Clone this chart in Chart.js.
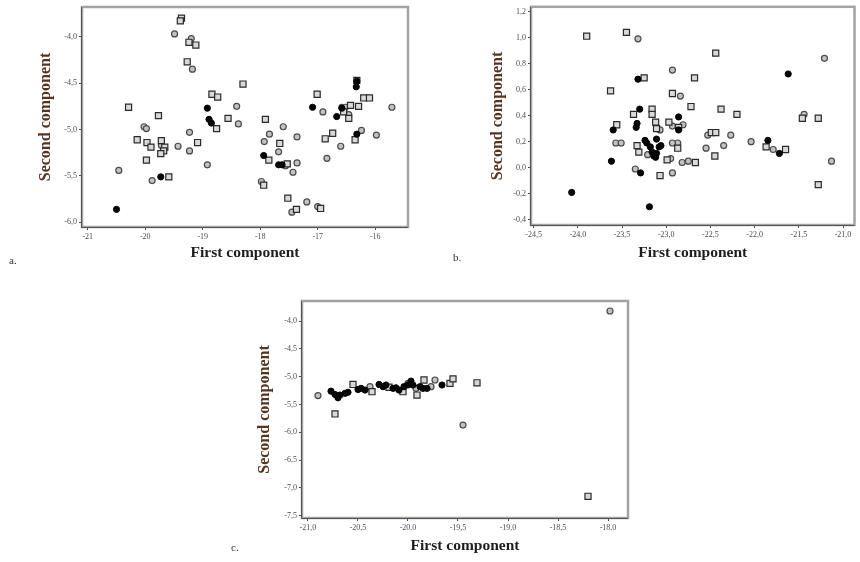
<!DOCTYPE html>
<html>
<head>
<meta charset="utf-8">
<script src="https://cdn.jsdelivr.net/npm/chart.js@4/dist/chart.umd.min.js"></script>
<style>
  body { margin: 0; background: #fff; width: 860px; height: 562px; position: relative; overflow: hidden; }
  canvas { position: absolute; }
  .tag { position: absolute; font: 11px "Liberation Serif", serif; color: #333; }
</style>
</head>
<body>
<canvas id="chartA" width="420" height="268" style="left:0;top:0"></canvas>
<canvas id="chartB" width="430" height="268" style="left:430px;top:0"></canvas>
<canvas id="chartC" width="410" height="280" style="left:230px;top:280px"></canvas>
<div class="tag" style="left:9px;top:254px">a.</div>
<div class="tag" style="left:453px;top:251px">b.</div>
<div class="tag" style="left:231px;top:541px">c.</div>
<script>
// panel a
const aFilled = [[-20.50,-5.86],[-19.73,-5.51],[-18.92,-4.77],[-18.89,-4.89],[-18.85,-4.93],[-17.94,-5.28],
  [-17.68,-5.38],[-17.62,-5.38],[-17.09,-4.76],[-16.67,-4.86],[-16.58,-4.77],[-16.32,-4.48],[-16.33,-4.54],[-16.32,-5.05]];
const aSquares = [[-19.37,-3.80],[-19.39,-3.83],[-19.27,-4.27],[-18.30,-4.51],[-18.84,-4.62],[-18.74,-4.65],
  [-20.29,-4.76],[-19.77,-4.85],[-18.56,-4.88],[-18.76,-4.99],[-20.14,-5.11],[-19.09,-5.14],[-19.97,-5.14],
  [-19.90,-5.19],[-19.72,-5.12],[-19.66,-5.19],[-19.68,-5.23],[-19.73,-5.26],[-19.98,-5.33],[-19.59,-5.51],
  [-19.12,-4.09],[-19.24,-4.06],[-17.91,-4.89],[-17.66,-5.15],[-17.85,-5.33],[-17.53,-5.37],[-17.94,-5.60],
  [-17.52,-5.74],[-17.37,-5.86],[-16.95,-5.85],[-17.01,-4.62],[-16.43,-4.74],[-16.29,-4.75],[-16.55,-4.81],
  [-16.46,-4.88],[-16.20,-4.66],[-16.10,-4.66],[-16.35,-5.11],[-16.74,-5.04],[-16.87,-5.10],[-16.32,-4.47]];
const aCircles = [[-19.49,-3.97],[-19.20,-4.02],[-19.18,-4.35],[-18.41,-4.75],[-18.38,-4.94],[-20.02,-4.97],
  [-19.98,-4.99],[-19.23,-5.03],[-19.72,-5.17],[-19.43,-5.18],[-19.23,-5.23],[-20.46,-5.44],[-18.92,-5.38],
  [-19.88,-5.55],[-17.84,-5.05],[-17.60,-4.97],[-17.93,-5.13],[-17.36,-5.08],[-17.68,-5.24],[-17.56,-5.39],
  [-17.36,-5.36],[-17.43,-5.46],[-17.98,-5.56],[-17.45,-5.89],[-17.19,-5.78],[-17.00,-5.83],[-16.91,-4.81],
  [-16.58,-4.76],[-16.52,-4.76],[-16.46,-4.84],[-15.71,-4.76],[-16.24,-5.01],[-15.98,-5.06],[-16.60,-5.18],
  [-16.84,-5.31]];
const aXTicks = [-21, -20, -19, -18, -17, -16];
const aYTicks = [-6.0, -5.5, -5.0, -4.5, -4.0];

// panel b
const bFilled = [[-21.62,0.72],[-23.32,0.68],[-23.30,0.45],[-23.33,0.34],[-23.34,0.31],[-23.60,0.29],
  [-22.86,0.39],[-22.86,0.29],[-21.85,0.21],[-21.72,0.11],[-23.29,-0.04],[-23.62,0.05],[-23.24,0.21],
  [-23.22,0.19],[-23.18,0.16],[-23.16,0.12],[-23.11,0.11],[-23.14,0.09],[-23.08,0.16],[-23.11,0.22],
  [-23.06,0.17],[-24.07,-0.19],[-23.19,-0.30],[-23.12,0.08]];
const bSquares = [[-23.90,1.01],[-23.45,1.04],[-22.44,0.88],[-22.68,0.69],[-23.25,0.69],[-23.63,0.59],
  [-22.93,0.57],[-22.72,0.47],[-22.38,0.45],[-22.20,0.41],[-23.37,0.41],[-23.16,0.45],[-23.16,0.41],
  [-21.46,0.38],[-23.56,0.33],[-23.12,0.35],[-23.11,0.30],[-22.97,0.35],[-22.86,0.31],[-22.49,0.27],
  [-22.44,0.27],[-21.87,0.16],[-21.65,0.14],[-21.28,-0.13],[-22.45,0.09],[-22.87,0.15],[-22.99,0.06],
  [-22.67,0.04],[-23.07,-0.06],[-23.33,0.17],[-23.31,0.12],[-21.28,0.38]];
const bCircles = [[-23.32,0.99],[-21.21,0.84],[-22.93,0.75],[-22.84,0.55],[-21.44,0.41],[-22.93,0.32],
  [-22.81,0.33],[-23.07,0.29],[-22.53,0.25],[-22.27,0.25],[-22.04,0.20],[-21.79,0.14],[-21.13,0.05],
  [-22.55,0.15],[-22.35,0.17],[-22.87,0.19],[-22.93,0.19],[-22.95,0.07],[-22.82,0.04],[-22.75,0.05],
  [-22.93,-0.04],[-23.35,-0.01],[-23.57,0.19],[-23.51,0.19],[-23.21,0.10]];
const bXTicks = [-24.5, -24.0, -23.5, -23.0, -22.5, -22.0, -21.5, -21.0];
const bYTicks = [-0.4, -0.2, 0.0, 0.2, 0.4, 0.6, 0.8, 1.0, 1.2];

// panel c
const cFilled = [[-20.77,-5.26],[-20.73,-5.32],[-20.70,-5.38],[-20.68,-5.33],[-20.63,-5.30],[-20.60,-5.28],
  [-20.50,-5.23],[-20.47,-5.21],[-20.43,-5.24],[-20.29,-5.14],[-20.25,-5.18],[-20.22,-5.15],[-20.15,-5.21],
  [-20.12,-5.20],[-20.09,-5.24],[-20.04,-5.18],[-20.00,-5.15],[-19.97,-5.08],[-19.95,-5.15],[-19.88,-5.18],
  [-19.85,-5.21],[-19.81,-5.21],[-19.66,-5.15]];
const cSquares = [[-18.20,-7.15],[-19.31,-5.11],[-20.73,-5.67],[-20.55,-5.14],[-20.36,-5.27],[-20.05,-5.27],
  [-19.91,-5.33],[-19.84,-5.06],[-19.58,-5.12],[-19.55,-5.04],[-20.19,-5.19]];
const cCircles = [[-17.98,-3.82],[-19.45,-5.87],[-20.90,-5.34],[-20.38,-5.18],[-19.92,-5.21],[-19.77,-5.18],
  [-19.73,-5.06],[-20.00,-5.12]];
const cXTicks = [-21.0, -20.5, -20.0, -19.5, -19.0, -18.5, -18.0];
const cYTicks = [-7.5, -7.0, -6.5, -6.0, -5.5, -5.0, -4.5, -4.0];

const serif = '"Liberation Serif", "DejaVu Serif", serif';

// grey box round the plot, darker axis lines left and bottom
const framePlugin = {
  id: 'frame',
  afterDraw(chart) {
    const { ctx, chartArea: a } = chart;
    ctx.save();
    ctx.strokeStyle = '#a3a3a3';
    ctx.lineWidth = 2.5;
    ctx.strokeRect(a.left, a.top, a.right - a.left, a.bottom - a.top);
    ctx.strokeStyle = '#555';
    ctx.lineWidth = 1;
    ctx.beginPath();
    ctx.moveTo(a.left - 0.5, a.top);
    ctx.lineTo(a.left - 0.5, a.bottom + 0.5);
    ctx.lineTo(a.right, a.bottom + 0.5);
    ctx.stroke();
    ctx.restore();
  }
};

const toPoints = arr => arr.map(p => ({ x: p[0], y: p[1] }));
const comma = (v, dec) => v.toFixed(dec).replace('.', ',');

function makeChart(id, s) {
  const ctx = document.getElementById(id).getContext('2d');
  try {
    new Chart(ctx, {
      type: 'scatter',
      data: {
        datasets: [
          { data: toPoints(s.filled), pointStyle: 'circle', pointRadius: 3.1,
            backgroundColor: '#050505', borderColor: '#050505', borderWidth: 1 },
          { data: toPoints(s.squares), pointStyle: 'rect', pointRadius: 4.3,
            backgroundColor: '#d9d9d9', borderColor: '#2a2a2a', borderWidth: 1.2 },
          { data: toPoints(s.circles), pointStyle: 'circle', pointRadius: 3.0,
            backgroundColor: '#c2c2c2', borderColor: '#4a4a4a', borderWidth: 1.2 }
        ]
      },
      options: {
        responsive: false,
        animation: false,
        layout: { padding: s.pad },
        plugins: { legend: { display: false }, tooltip: { enabled: false } },
        scales: {
          x: {
            min: s.xMin, max: s.xMax,
            afterBuildTicks: sc => { sc.ticks = s.xTicks.map(v => ({ value: v })); },
            afterFit: sc => { sc.height = s.xAxisH; },
            border: { display: false },
            grid: { drawOnChartArea: false, color: '#444', tickLength: 3 },
            ticks: { maxRotation: 0, padding: 2, color: '#4a4a5a',
              font: { family: serif, size: 8 },
              callback: v => comma(v, s.xDec) },
            title: { display: true, text: 'First component', color: '#1e1e1e',
              font: { family: serif, size: 15.5, weight: 'bold' },
              padding: { top: 0, bottom: s.xTitlePad } }
          },
          y: {
            min: s.yMin, max: s.yMax,
            afterBuildTicks: sc => { sc.ticks = s.yTicks.map(v => ({ value: v })); },
            afterFit: sc => { sc.width = s.yAxisW; },
            border: { display: false },
            grid: { drawOnChartArea: false, color: '#444', tickLength: 3 },
            ticks: { padding: 2, color: '#4a4a5a',
              font: { family: serif, size: 8 },
              callback: v => comma(v, 1) },
            title: { display: true, text: 'Second component', color: '#553420',
              font: { family: serif, size: 16, weight: 'bold' },
              padding: { top: s.yTitlePad, bottom: 0 } }
          }
        }
      },
      plugins: [framePlugin]
    });
  } catch (error) {
    console.error('Chart.js Error: ', error);
  }
}

makeChart('chartA', {
  filled: aFilled, squares: aSquares, circles: aCircles,
  xTicks: aXTicks, yTicks: aYTicks, xDec: 0,
  xMin: -21.1, xMax: -15.43, yMin: -6.05, yMax: -3.68,
  pad: { top: 7, right: 12, left: 0, bottom: 0 },
  yAxisW: 82, xAxisH: 41, yTitlePad: 36, xTitlePad: 6
});
makeChart('chartB', {
  filled: bFilled, squares: bSquares, circles: bCircles,
  xTicks: bXTicks, yTicks: bYTicks, xDec: 1,
  xMin: -24.53, xMax: -20.87, yMin: -0.44, yMax: 1.236,
  pad: { top: 6, right: 2, left: 0, bottom: 0 },
  yAxisW: 101, xAxisH: 43, yTitlePad: 58, xTitlePad: 6
});
makeChart('chartC', {
  filled: cFilled, squares: cSquares, circles: cCircles,
  xTicks: cXTicks, yTicks: cYTicks, xDec: 1,
  xMin: -21.06, xMax: -17.8, yMin: -7.54, yMax: -3.64,
  pad: { top: 21, right: 12, left: 0, bottom: 0 },
  yAxisW: 72, xAxisH: 42, yTitlePad: 25, xTitlePad: 5
});
</script>
</body>
</html>
